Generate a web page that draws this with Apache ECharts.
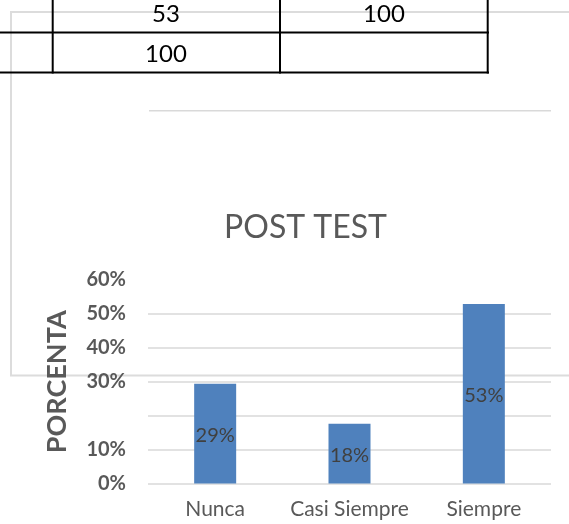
<!DOCTYPE html>
<html>
<head>
<meta charset="utf-8">
<script src="https://cdn.jsdelivr.net/npm/echarts@6/dist/echarts.min.js"></script>
<style>
html,body{margin:0;padding:0;background:#fff;}
#chart{width:569px;height:524px;}
</style>
</head>
<body>
<div id="chart"></div>
<script>
// Data
var categories = ['Nunca', 'Casi Siempre', 'Siempre'];
var percentValues = [29.41, 17.65, 52.94];
var yTickLabels = ['0%', '10%', '', '30%', '40%', '50%', '60%'];
var chartTitle = 'POST TEST';
var yAxisTitle = 'PORCENTA';
var tableRow1 = ['53', '100'];
var tableRow2 = ['100', ''];

var FONT = 'Lato, "Noto Sans", sans-serif';
var chart = echarts.init(document.getElementById('chart'), null, {renderer: 'canvas'});

var tableCenters = [166, 384];
var graphics = [
  // background frame of underlying chart
  {type: 'rect', z: -10, silent: true, shape: {x: 11, y: 12, width: 620, height: 363.5},
   style: {fill: 'none', stroke: '#dcdcdc', lineWidth: 2}},
  // stray top gridline
  {type: 'line', z: -10, silent: true, shape: {x1: 149, y1: 110.7, x2: 551, y2: 110.7},
   style: {stroke: '#d9d9d9', lineWidth: 1.5}},
  // table lines
  {type: 'line', z: 50, shape: {x1: 0, y1: 32.5, x2: 489, y2: 32.5}, style: {stroke: '#000', lineWidth: 2}},
  {type: 'line', z: 50, shape: {x1: 0, y1: 72.5, x2: 489, y2: 72.5}, style: {stroke: '#000', lineWidth: 2}},
  {type: 'line', z: 50, shape: {x1: 52.7, y1: 0, x2: 52.7, y2: 73.5}, style: {stroke: '#000', lineWidth: 2}},
  {type: 'line', z: 50, shape: {x1: 280, y1: 0, x2: 280, y2: 73.5}, style: {stroke: '#000', lineWidth: 2}},
  {type: 'line', z: 50, shape: {x1: 487.7, y1: 0, x2: 487.7, y2: 73.5}, style: {stroke: '#000', lineWidth: 2}}
];
tableRow1.forEach(function (t, i) {
  graphics.push({type: 'text', z: 50, style: {text: t, x: tableCenters[i], y: 14, textAlign: 'center', textVerticalAlign: 'middle', font: '24px ' + FONT, fill: '#000'}});
});
tableRow2.forEach(function (t, i) {
  graphics.push({type: 'text', z: 50, style: {text: t, x: tableCenters[i], y: 54, textAlign: 'center', textVerticalAlign: 'middle', font: '24px ' + FONT, fill: '#000'}});
});

var option = {
  animation: false,
  backgroundColor: '#fff',
  title: {
    text: chartTitle,
    left: 300.5,
    textAlign: 'center',
    top: 207,
    textStyle: {fontFamily: FONT, fontSize: 32, fontWeight: 'normal', color: '#595959'}
  },
  grid: {left: 148, right: 18, top: 280, bottom: 40.5, containLabel: false},
  xAxis: {
    type: 'category',
    data: categories,
    axisLine: {show: false},
    axisTick: {show: false},
    axisLabel: {interval: 0, color: '#595959', fontFamily: FONT, fontSize: 21, margin: 15}
  },
  yAxis: {
    type: 'value',
    min: 0, max: 60, interval: 10,
    name: yAxisTitle,
    nameLocation: 'middle',
    nameRotate: 90,
    nameGap: 77,
    nameTextStyle: {fontFamily: FONT, fontSize: 27, fontWeight: 'bold', color: '#595959'},
    axisLine: {show: false},
    axisTick: {show: false},
    splitLine: {show: true, showMaxLine: false, lineStyle: {color: '#d9d9d9', width: 1.5}},
    axisLabel: {
      margin: 22,
      color: '#595959', fontFamily: FONT, fontSize: 20, fontWeight: 'bold',
      formatter: function (v) { return yTickLabels[Math.round(v / 10)]; }
    }
  },
  series: [{
    type: 'bar',
    data: percentValues,
    barWidth: 42,
    itemStyle: {color: '#4f81bd'},
    label: {
      show: true, position: 'inside', offset: [0, 2],
      color: '#404040', fontFamily: FONT, fontSize: 20,
      formatter: function (p) { return Math.round(p.value) + '%'; }
    }
  }],
  graphic: graphics
};
chart.setOption(option);
</script>
</body>
</html>
